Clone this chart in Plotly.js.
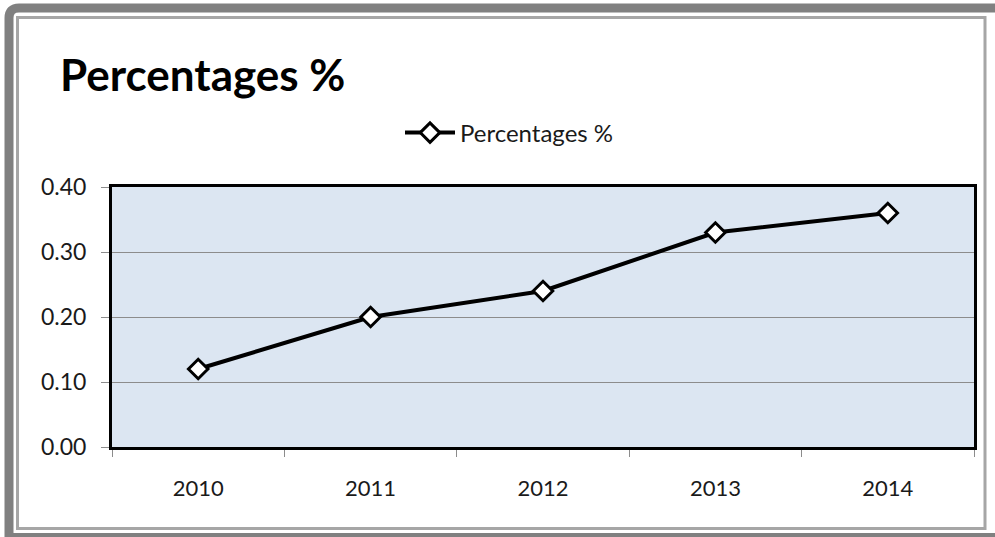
<!DOCTYPE html>
<html>
<head>
<meta charset="utf-8">
<script src="https://cdn.plot.ly/plotly-3.0.1.min.js"></script>
<style>html,body{margin:0;padding:0;background:#fff;}#chart{width:995px;height:537px;}</style>
</head>
<body>
<div id="chart"></div>
<script>
const years = ['2010', '2011', '2012', '2013', '2014'];
const percentages = [0.12, 0.20, 0.24, 0.33, 0.36];
const seriesName = 'Percentages %';
const chartTitle = 'Percentages %';

const W = 995, H = 537, L = 112, R = 21, T = 187, B = 90;
const pw = W - L - R, ph = H - T - B;
const px = x => (x - L) / pw;
const py = y => (H - B - y) / ph;

function rectPath(x0, y0, x1, y1, r) {
  return `M ${px(x0 + r)} ${py(y0)} L ${px(x1)} ${py(y0)} L ${px(x1)} ${py(y1)} L ${px(x0)} ${py(y1)} L ${px(x0)} ${py(y0 + r)} Q ${px(x0)} ${py(y0)} ${px(x0 + r)} ${py(y0)} Z`;
}

const trace = {
  x: years,
  y: percentages,
  type: 'scatter',
  mode: 'lines+markers',
  name: seriesName,
  showlegend: true,
  line: {color: '#000000', width: 4},
  marker: {symbol: 'diamond', size: 15, color: '#ffffff', line: {color: '#000000', width: 3}}
};

const layout = {
  width: W, height: H,
  margin: {l: L, r: R, t: T, b: B, pad: 0},
  paper_bgcolor: '#ffffff',
  plot_bgcolor: '#dce6f2',
  font: {family: 'Lato, sans-serif', color: '#1a1a1a'},
  title: {
    text: chartTitle,
    font: {family: 'Lato, sans-serif', size: 44, color: '#000000', weight: 'bold'},
    x: 60 / W, xref: 'container', xanchor: 'left',
    y: 1 - 76 / H, yref: 'container', yanchor: 'middle'
  },
  showlegend: true,
  legend: {
    x: px(400), xanchor: 'left',
    y: py(133), yanchor: 'middle',
    itemwidth: 50,
    font: {family: 'Lato, sans-serif', size: 24, color: '#1a1a1a'},
    bgcolor: 'rgba(0,0,0,0)'
  },
  xaxis: {
    type: 'category',
    range: [-0.5, 4.5],
    tickson: 'boundaries',
    ticks: 'outside', ticklen: 7, tickcolor: '#8c8c8c', tickwidth: 1,
    showline: true, linecolor: '#000000', linewidth: 3, mirror: true,
    showgrid: false, zeroline: false,
    tickfont: {family: 'Lato, sans-serif', size: 22, color: '#1a1a1a'},
    ticklabelstandoff: 20,
    fixedrange: true
  },
  yaxis: {
    range: [0, 0.4],
    dtick: 0.1, tick0: 0,
    tickformat: '.2f',
    ticks: 'outside', ticklen: 8, tickcolor: '#8c8c8c', tickwidth: 1,
    showline: true, linecolor: '#000000', linewidth: 3, mirror: true,
    showgrid: true, gridcolor: '#8c8c8c', gridwidth: 1,
    zeroline: false,
    tickfont: {family: 'Lato, sans-serif', size: 23, color: '#1a1a1a'},
    ticklabelstandoff: 10,
    fixedrange: true
  },
  shapes: [
    {type: 'path', xref: 'paper', yref: 'paper', layer: 'below',
     path: rectPath(9, 8, 1010, 537.5, 10),
     line: {color: '#808080', width: 9}, fillcolor: 'rgba(0,0,0,0)'},
    {type: 'rect', xref: 'paper', yref: 'paper', layer: 'below',
     x0: px(17.5), y0: py(17.5), x1: px(985), y1: py(528.5),
     line: {color: '#a6a6a6', width: 3}, fillcolor: 'rgba(0,0,0,0)'}
  ]
};

Plotly.newPlot('chart', [trace], layout, {displayModeBar: false, staticPlot: true});
</script>
</body>
</html>
